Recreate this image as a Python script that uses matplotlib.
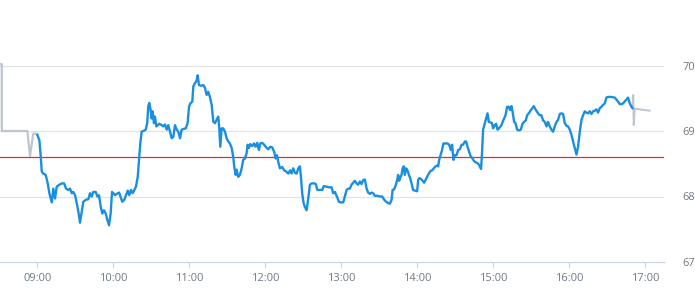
import matplotlib
matplotlib.use("Agg")
import matplotlib.pyplot as plt

# ---- data (minutes after 09:00, price) ----
pre_minutes = [-29.4, -28.1, -28.1, -7.9, -5.8, -3.2, -0.5, 0.0]
pre_prices = [70.02, 70.02, 69.00, 69.00, 68.62, 68.96, 68.96, 68.94]

session_minutes = [
    0.0, 1.6, 2.7, 3.5, 4.7, 6.6, 8.2, 9.5, 11.4, 12.6, 14.0, 15.3, 17.4, 19.3, 21.1, 22.7,
    24.5, 25.8, 27.2, 28.4, 29.8, 31.1, 32.4, 33.7, 35.1, 36.3, 38.4, 40.3, 41.6, 42.9, 44.2,
    46.1, 47.4, 48.7, 50.1, 51.3, 52.7, 54.0, 55.3, 56.6, 57.9, 59.0, 60.0, 61.3, 62.7, 64.6,
    65.8, 67.1, 68.7, 70.0, 71.4, 72.6, 74.0, 75.3, 76.6, 77.9, 79.3, 80.3, 81.3, 82.4, 83.7,
    85.6, 86.8, 87.6, 88.4, 89.5, 90.3, 91.1, 92.1, 92.9, 94.0, 95.1, 96.3, 98.2, 99.5, 100.8,
    102.2, 103.4, 104.8, 106.1, 107.4, 108.7, 110.1, 111.3, 112.7, 114.0, 115.3, 117.2, 118.7,
    119.8, 120.8, 122.4, 123.2, 124.5, 125.8, 126.6, 127.7, 129.2, 131.1, 132.4, 133.7, 135.0,
    136.3, 137.7, 139.0, 140.3, 141.6, 142.9, 143.7, 144.5, 145.6, 146.8, 148.2, 149.5, 150.8,
    152.1, 153.5, 154.7, 155.5, 156.6, 157.4, 158.7, 160.0, 161.4, 162.6, 164.0, 165.3, 166.1,
    167.1, 168.2, 169.7, 171.1, 172.4, 173.7, 175.0, 176.1, 177.6, 179.2, 180.8, 182.4, 184.0,
    185.5, 187.1, 188.2, 189.3, 190.3, 191.6, 193.4, 195.0, 196.6, 198.2, 199.7, 200.8, 202.1,
    203.5, 204.8, 206.1, 207.4, 208.2, 209.2, 210.3, 211.3, 212.7, 214.0, 215.3, 216.6, 218.7,
    220.0, 221.1, 223.2, 225.0, 226.3, 228.5, 230.5, 232.4, 233.7, 235.0, 236.6, 238.2, 239.8,
    241.6, 242.9, 244.3, 245.5, 246.9, 248.2, 249.5, 250.8, 252.2, 253.4, 254.8, 256.1, 257.4,
    258.7, 260.1, 261.3, 262.7, 264.0, 265.3, 266.6, 268.7, 270.6, 272.4, 274.0, 275.5, 277.1,
    278.5, 279.8, 280.6, 281.9, 283.2, 284.2, 285.0, 285.8, 286.9, 287.7, 288.5, 289.5, 290.3,
    291.3, 292.4, 293.5, 294.5, 295.6, 296.8, 298.2, 300.0, 300.8, 301.6, 302.9, 304.3, 305.5,
    306.6, 307.9, 309.2, 310.6, 311.9, 313.2, 314.5, 315.8, 316.6, 317.4, 318.5, 319.7, 320.8,
    322.4, 324.0, 325.3, 326.6, 327.6, 328.7, 329.8, 331.1, 332.4, 333.7, 335.1, 336.3, 337.7,
    338.7, 339.8, 341.1, 342.4, 343.7, 345.0, 346.4, 347.7, 349.0, 349.5, 350.5, 351.3, 352.1,
    353.5, 354.5, 355.6, 356.6, 358.0, 359.2, 360.0, 361.4, 362.4, 363.5, 364.7, 366.6, 368.2,
    369.8, 371.1, 372.4, 373.4, 374.5, 375.6, 376.6, 377.7, 379.0, 380.5, 381.9, 383.2, 384.5,
    385.8, 386.9, 388.2, 389.8, 391.1, 392.1, 393.5, 394.5, 395.5, 396.9, 398.2, 399.5, 400.8,
    402.2, 403.4, 404.8, 406.1, 407.4, 408.7, 410.1, 411.3, 412.7, 414.0, 415.3, 416.6, 418.0,
    419.2, 420.6, 421.9, 423.2, 424.5, 425.9, 427.1, 428.5, 429.8, 431.1, 432.4, 433.8, 435.0,
    436.4, 437.7, 439.0, 440.3, 441.6, 442.9, 444.3, 445.6, 446.9, 448.2, 449.5, 450.8, 453.5,
    456.1, 457.4, 458.7, 460.1, 461.4, 462.6, 464.0, 465.3, 466.6, 468.0, 469.3, 470.1,
]
session_prices = [
    68.94, 68.86, 68.61, 68.38, 68.35, 68.33, 68.20, 68.05, 67.91, 68.12, 67.97, 68.15, 68.18, 68.20, 68.20, 68.12,
    68.10, 68.12, 68.05, 68.07, 68.02, 67.90, 67.77, 67.60, 67.77, 67.92, 67.95, 67.96, 68.05, 68.00, 68.07,
    68.07, 68.00, 68.02, 67.84, 67.74, 67.79, 67.74, 67.64, 67.56, 67.74, 68.07, 68.05, 68.02, 68.04, 68.06,
    67.99, 67.92, 67.95, 68.02, 68.09, 68.02, 68.10, 68.05, 68.10, 68.15, 68.30, 68.56, 68.81, 68.99, 69.00,
    69.02, 69.12, 69.37, 69.43, 69.32, 69.19, 69.30, 69.12, 69.22, 69.07, 69.09, 69.11, 69.09, 69.07, 69.10,
    69.02, 69.09, 68.99, 68.89, 68.91, 69.09, 69.02, 68.99, 68.89, 69.02, 69.03, 69.04, 69.12,
    69.37, 69.42, 69.45, 69.68, 69.73, 69.77, 69.85, 69.70, 69.69, 69.70, 69.66, 69.55, 69.60,
    69.52, 69.40, 69.14, 69.12, 69.17, 69.22, 69.04, 68.76, 69.04, 69.04, 68.99, 68.89, 68.84,
    68.81, 68.74, 68.61, 68.46, 68.33, 68.41, 68.30, 68.33, 68.43, 68.56, 68.58, 68.66, 68.79,
    68.74, 68.80, 68.77, 68.81, 68.76, 68.82, 68.71, 68.81, 68.82, 68.79, 68.75, 68.72, 68.76,
    68.75, 68.68, 68.58, 68.63, 68.53, 68.43, 68.45, 68.40, 68.38, 68.35, 68.40, 68.35, 68.43,
    68.36, 68.35, 68.43, 68.46, 68.30, 68.05, 67.90, 67.84, 67.79, 67.97, 68.18, 68.20, 68.20,
    68.19, 68.10, 68.10, 68.10, 68.16, 68.15, 68.14, 68.14, 68.05, 68.07, 68.00, 67.92, 67.91,
    67.91, 68.00, 68.10, 68.12, 68.12, 68.18, 68.21, 68.24, 68.20, 68.18, 68.23, 68.19, 68.25,
    68.26, 68.12, 68.06, 68.04, 68.06, 68.05, 68.01, 68.01, 68.00, 68.00, 67.95, 67.92, 67.90,
    67.89, 67.95, 68.10, 68.11, 68.18, 68.25, 68.33, 68.24, 68.30, 68.33, 68.43, 68.46, 68.33,
    68.43, 68.40, 68.33, 68.28, 68.20, 68.10, 68.09, 68.08, 68.25, 68.28, 68.27, 68.24, 68.21,
    68.25, 68.30, 68.35, 68.39, 68.40, 68.43, 68.46, 68.47, 68.46, 68.56, 68.63, 68.71, 68.81,
    68.81, 68.81, 68.79, 68.71, 68.79, 68.56, 68.63, 68.63, 68.71, 68.72, 68.79, 68.79, 68.84,
    68.84, 68.76, 68.68, 68.61, 68.58, 68.54, 68.52, 68.51, 68.48, 68.46, 68.42, 68.68, 69.02,
    69.12, 69.19, 69.27, 69.14, 69.13, 69.12, 69.04, 69.09, 69.11, 69.02, 69.04, 69.09, 69.17,
    69.24, 69.37, 69.37, 69.32, 69.38, 69.27, 69.14, 69.12, 69.02, 69.01, 69.02, 69.11, 69.14,
    69.16, 69.24, 69.27, 69.32, 69.35, 69.38, 69.33, 69.30, 69.27, 69.24, 69.24, 69.16, 69.14,
    69.07, 69.14, 69.07, 69.02, 68.99, 69.07, 69.14, 69.17, 69.26, 69.27, 69.26, 69.12, 69.08,
    69.07, 69.02, 68.94, 68.84, 68.74, 68.64, 68.76, 68.99, 69.17, 69.24, 69.30, 69.28, 69.27,
    69.30, 69.26, 69.30, 69.31, 69.33, 69.28, 69.35, 69.37, 69.40, 69.42, 69.51, 69.52, 69.52,
    69.51, 69.48, 69.45, 69.41, 69.41, 69.42, 69.45, 69.48, 69.51, 69.42, 69.37, 69.35,
]

post_minutes = [470.1, 470.7, 471.1, 471.9, 479.8, 483.7]
post_prices = [69.35, 69.55, 69.09, 69.34, 69.32, 69.31]

reference_price = 68.61

x_tick_minutes = [0, 60, 120, 180, 240, 300, 360, 420, 480]
x_tick_labels = ["09:00", "10:00", "11:00", "12:00", "13:00", "14:00", "15:00", "16:00", "17:00"]
y_ticks = [67, 68, 69, 70]
y_tick_labels = ["67", "68", "69", "70"]

# ---- figure ----
plt.rcParams['font.family'] = ['Open Sans', 'DejaVu Sans']
fig = plt.figure(figsize=(6.95, 3.0), dpi=100)
ax = fig.add_axes([0.0, 38 / 300, 664 / 695, 262 / 300])

label_color = "#6f7a85"
grid_color = "#e3e3e3"
axis_color = "#ccd6eb"

ax.set_xlim(-29.5, 495.0)
ax.set_ylim(67.0, 71.0)

for y in y_ticks[1:]:
    ax.axhline(y, color=grid_color, lw=0.9, zorder=0)

ax.plot(pre_minutes, pre_prices, color="#bcc6cf", lw=1.6, zorder=2, solid_joinstyle="round")
ax.plot(session_minutes, session_prices, color="#1a8fe0", lw=1.7, zorder=3, solid_joinstyle="round")
ax.plot(post_minutes, post_prices, color="#bcc6cf", lw=1.4, zorder=2, solid_joinstyle="round")
ax.axhline(reference_price, color="#d8332c", lw=0.9, zorder=2)

for side in ("top", "left", "right"):
    ax.spines[side].set_visible(False)
ax.spines["bottom"].set_color(axis_color)
ax.spines["bottom"].set_linewidth(0.9)

ax.set_xticks(x_tick_minutes)
ax.set_xticklabels(x_tick_labels)
ax.tick_params(axis="x", length=4, width=0.8, colors=axis_color, labelcolor=label_color,
               labelsize=8, pad=4)

ax.yaxis.tick_right()
ax.set_yticks(y_ticks)
ax.set_yticklabels(y_tick_labels)
ax.tick_params(axis="y", length=0, labelsize=8, labelcolor=label_color, pad=13.5)

fig.savefig("out.png", dpi=100)
